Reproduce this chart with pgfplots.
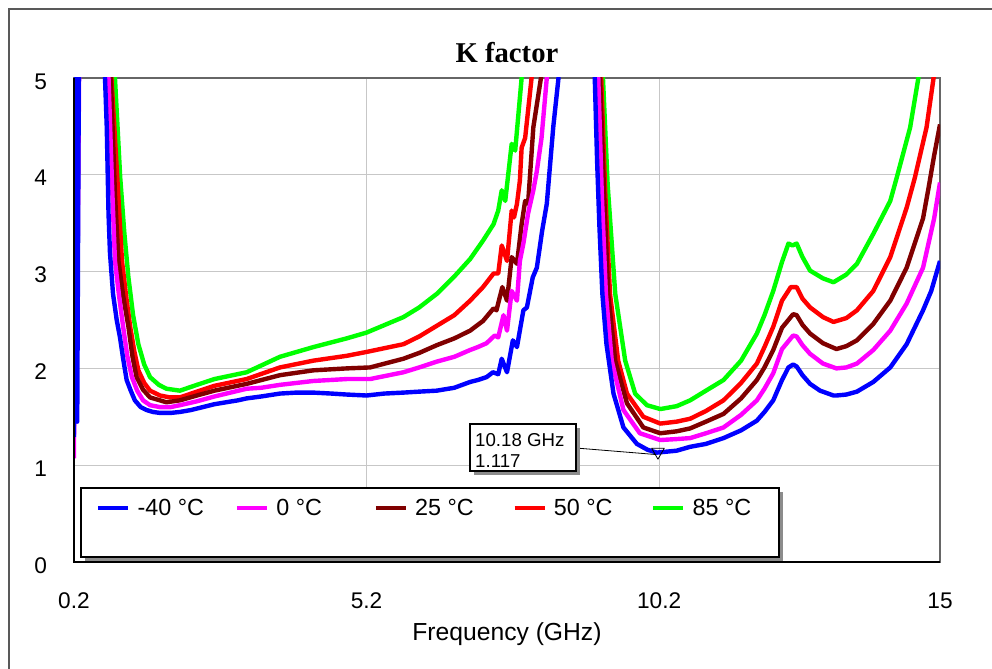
\documentclass[border=0pt]{standalone}
\usepackage{fontspec}
\setmainfont{Liberation Sans}
\newfontfamily\titlefont{Liberation Serif}
\usepackage{pgfplots}
\pgfplotsset{compat=1.18}

\pgfplotstableread{
f v
0.2 1.29
0.225 5.5
0.255 1.45
0.29 6
0.5 8
0.70 6
0.73 5.0
0.76 4.49
0.79 3.6
0.815 3.19
0.867 2.77
0.93 2.5
0.986 2.32
1.04 2.1
1.10 1.88
1.17 1.77
1.24 1.67
1.34 1.60
1.44 1.57
1.55 1.55
1.67 1.54
1.85 1.54
2.01 1.55
2.2 1.57
2.4 1.60
2.6 1.63
2.8 1.65
3.0 1.67
3.15 1.69
3.4 1.71
3.72 1.74
4.0 1.75
4.29 1.75
4.6 1.74
4.86 1.73
5.2 1.72
5.5 1.74
5.83 1.75
6.1 1.76
6.4 1.77
6.7 1.80
6.97 1.86
7.1 1.88
7.25 1.91
7.36 1.96
7.45 1.94
7.51 2.10
7.56 2.02
7.6 1.96
7.7 2.29
7.77 2.22
7.88 2.60
7.94 2.63
8.04 2.94
8.11 3.04
8.20 3.42
8.28 3.70
8.39 4.49
8.48 5.0
8.55 6
9.0 7
9.10 5.0
9.14 4.14
9.18 3.46
9.23 2.77
9.30 2.25
9.42 1.74
9.59 1.39
9.82 1.22
10.0 1.16
10.16 1.13
10.5 1.15
10.73 1.19
11.0 1.22
11.30 1.28
11.6 1.36
11.87 1.46
12.0 1.55
12.15 1.67
12.3 1.88
12.41 2.01
12.49 2.04
12.55 2.02
12.65 1.93
12.78 1.84
12.95 1.77
13.18 1.72
13.23 1.72
13.4 1.73
13.58 1.76
13.86 1.86
14.15 2.01
14.43 2.25
14.71 2.60
14.85 2.80
15.0 3.11
}\tblue

\pgfplotstableread{
f v
0.2 1.07
0.215 5.5
0.26 3.0
0.30 6
0.5 8
0.77 6
0.79 5.0
0.85 3.9
0.90 3.11
0.97 2.75
1.04 2.43
1.11 2.13
1.19 1.91
1.28 1.77
1.38 1.67
1.5 1.62
1.67 1.60
1.85 1.60
2.01 1.62
2.3 1.66
2.6 1.71
3.15 1.79
3.4 1.80
3.72 1.83
4.29 1.87
4.86 1.89
5.26 1.89
5.83 1.96
6.1 2.01
6.4 2.07
6.7 2.12
6.97 2.19
7.1 2.22
7.25 2.26
7.39 2.34
7.45 2.32
7.54 2.55
7.6 2.39
7.68 2.80
7.77 2.70
7.82 3.11
7.88 3.29
7.96 3.60
8.05 3.84
8.11 4.04
8.19 4.38
8.28 5.0
8.35 6
9.0 7
9.16 5.0
9.22 3.8
9.29 2.77
9.39 2.08
9.59 1.57
9.87 1.33
10.22 1.26
10.5 1.27
10.73 1.28
11.0 1.33
11.30 1.39
11.6 1.52
11.87 1.67
12.0 1.79
12.15 1.95
12.3 2.20
12.49 2.34
12.55 2.33
12.65 2.24
12.78 2.15
13.0 2.05
13.23 2.00
13.4 2.01
13.58 2.05
13.86 2.19
14.15 2.39
14.43 2.67
14.71 3.04
14.9 3.55
15.0 3.92
}\tmag

\pgfplotstableread{
f v
0.2 1.40
0.225 6
0.5 8
0.8 6
0.83 5.0
0.90 3.8
0.96 3.11
1.04 2.75
1.13 2.43
1.2 2.12
1.27 1.91
1.38 1.78
1.5 1.70
1.78 1.65
2.01 1.67
2.3 1.72
2.6 1.77
3.15 1.84
3.72 1.93
4.29 1.98
4.86 2.00
5.26 2.01
5.83 2.10
6.1 2.16
6.4 2.24
6.7 2.31
6.97 2.39
7.19 2.49
7.37 2.62
7.42 2.60
7.52 2.84
7.6 2.70
7.68 3.15
7.77 3.08
7.85 3.49
7.91 3.73
7.96 3.70
8.05 4.49
8.18 5.0
8.25 6
9.0 7
9.19 5.0
9.26 3.8
9.33 2.77
9.45 2.08
9.65 1.64
9.93 1.39
10.22 1.33
10.5 1.35
10.73 1.38
11.0 1.45
11.30 1.53
11.6 1.69
11.87 1.88
12.0 2.01
12.15 2.19
12.3 2.42
12.49 2.56
12.55 2.55
12.65 2.45
12.78 2.36
13.0 2.26
13.23 2.20
13.4 2.23
13.58 2.29
13.86 2.46
14.15 2.70
14.43 3.04
14.71 3.55
14.8 3.85
14.9 4.20
15.0 4.52
}\tdred

\pgfplotstableread{
f v
0.2 1.45
0.225 6
0.5 8
0.82 6
0.84 5.0
0.94 3.97
1.02 3.11
1.09 2.75
1.16 2.43
1.23 2.18
1.30 1.98
1.4 1.85
1.5 1.77
1.67 1.72
1.84 1.70
2.01 1.70
2.3 1.76
2.6 1.82
3.15 1.89
3.72 2.01
4.29 2.08
4.86 2.13
5.2 2.17
5.83 2.25
6.1 2.33
6.4 2.44
6.7 2.55
6.97 2.70
7.19 2.84
7.37 2.98
7.45 2.98
7.51 3.27
7.6 3.11
7.68 3.63
7.72 3.56
7.77 3.70
7.82 3.94
7.85 4.28
7.91 4.38
8.02 5.0
8.1 6
9.0 7
9.21 5.0
9.28 3.8
9.36 2.77
9.50 2.08
9.65 1.74
9.93 1.50
10.22 1.43
10.5 1.45
10.73 1.48
11.0 1.56
11.30 1.67
11.6 1.85
11.87 2.05
12.0 2.22
12.15 2.43
12.3 2.70
12.45 2.84
12.55 2.84
12.65 2.72
12.78 2.63
13.0 2.53
13.18 2.48
13.4 2.52
13.58 2.60
13.86 2.80
14.15 3.15
14.43 3.66
14.57 3.97
14.77 4.49
14.89 5.0
15.0 5.4
}\tred

\pgfplotstableread{
f v
0.2 1.50
0.225 6
0.5 8
0.88 6
0.90 5.0
0.99 3.97
1.06 3.4
1.13 2.94
1.21 2.55
1.30 2.25
1.4 2.04
1.5 1.91
1.65 1.83
1.78 1.79
2.01 1.77
2.3 1.83
2.6 1.89
3.15 1.96
3.4 2.03
3.72 2.12
4.29 2.22
4.86 2.31
5.2 2.37
5.83 2.53
6.1 2.63
6.4 2.77
6.7 2.95
6.97 3.13
7.19 3.32
7.37 3.49
7.45 3.63
7.51 3.84
7.57 3.73
7.68 4.32
7.74 4.25
7.85 5.0
7.95 6
9.0 7
9.24 5.0
9.32 3.9
9.45 2.77
9.62 2.08
9.79 1.74
9.99 1.62
10.22 1.58
10.5 1.61
10.73 1.67
11.0 1.77
11.30 1.88
11.6 2.08
11.87 2.36
12.0 2.55
12.15 2.80
12.3 3.10
12.41 3.29
12.48 3.27
12.55 3.29
12.65 3.15
12.78 3.01
13.0 2.93
13.18 2.89
13.4 2.97
13.58 3.08
13.86 3.39
14.15 3.73
14.26 3.97
14.49 4.49
14.63 5.0
14.75 5.4
}\tgreen

\definecolor{cblue}{RGB}{0,0,255}
\definecolor{cmag}{RGB}{255,0,255}
\definecolor{cdred}{RGB}{128,0,0}
\definecolor{cred}{RGB}{255,0,0}
\definecolor{cgreen}{RGB}{0,255,0}

\begin{document}
\begin{tikzpicture}
\draw[black!65, line width=1pt] (6.75pt,-10pt) -- (6.75pt,494.25pt) -- (760pt,494.25pt);
\begin{axis}[
  at={(55.5pt,79.5pt)}, anchor=south west,
  scale only axis, width=649.5pt, height=363pt,
  xmin=0.2, xmax=15, ymin=0, ymax=5,
  clip mode=individual,
  axis line style={black!60, line width=1.1pt},
  grid=major, major grid style={black!22, line width=0.8pt},
  major tick length=0pt,
  xtick={0.2,5.2,10.2,15}, xticklabels={0.2,5.2,10.2,15},
  ytick={0,1,2,3,4,5}, yticklabels={0,1,2,3,4,5},
  /pgf/number format/assume math mode=true,
  ticklabel style={font=\fontsize{17}{20}\selectfont},
  xticklabel style={inner sep=0pt, anchor=north, yshift=-23pt},
  yticklabel style={inner sep=0pt, anchor=east, xshift=-20pt, yshift=-2.5pt},
  xlabel={Frequency (GHz)},
  xlabel style={at={(axis description cs:0.5,-0.1488)}, anchor=center, font=\fontsize{18.5}{22}\selectfont},
  title={K factor},
  title style={at={(axis description cs:0.5,1.037)}, anchor=center, font=\titlefont\bfseries\fontsize{21.5}{25}\selectfont},
  legend columns=5,
  reverse legend,
  legend cell align=left,
  legend style={at={(axis description cs:0.0254,0.1116)}, anchor=west, draw=none, fill=none, inner sep=0pt,
    font=\fontsize{17.5}{21}\selectfont, nodes={inner sep=0pt},
    /tikz/every odd column/.append style={column sep=5.25pt}},
  legend image code/.code={\draw[#1] (0pt,0pt) -- (22.5pt,0pt);},
  every axis plot/.append style={line width=3.3pt, line join=round},
]
\draw[draw=none, fill=black!45] (axis description cs:0.0127,0.0021) rectangle (axis description cs:0.8187,0.1446);
\draw[black, line width=1pt, fill=white] (axis description cs:0.00808,0.01033) rectangle (axis description cs:0.8141,0.1529);

\addplot[cgreen] table[x=f,y=v] {\tgreen};
\addplot[cred] table[x=f,y=v] {\tred};
\addplot[cdred] table[x=f,y=v] {\tdred};
\addplot[cmag] table[x=f,y=v] {\tmag};
\addplot[cblue] table[x=f,y=v] {\tblue};
\legend{\makebox[73pt][l]{85 °C},\makebox[73pt][l]{50 °C},\makebox[73pt][l]{25 °C},\makebox[73pt][l]{0 °C},\makebox[73pt][l]{-40 °C}}

\draw[black, line width=0.8pt] (axis description cs:0,1) -- (axis description cs:0,0) -- (axis description cs:1,0);

% annotation
\draw[black, line width=0.6pt] (axis description cs:0.5797,0.2355) -- (axis cs:10.15,1.11);
\addplot[forget plot, only marks, mark=triangle, mark size=5.5pt, mark options={rotate=180, black, fill=white, line width=0.6pt, yshift=-1.5pt}] coordinates {(10.18,1.117)};
\draw[draw=none, fill=black!45] (axis description cs:0.4619,0.1798) rectangle (axis description cs:0.5843,0.2769);
\draw[black, line width=0.8pt, fill=white] (axis description cs:0.4573,0.1880) rectangle (axis description cs:0.5797,0.2851);
\node[anchor=north west, align=left, inner sep=0pt, font=\fontsize{14}{15.75}\selectfont] at (axis description cs:0.4630,0.2665) {10.18 GHz\\1.117};
\end{axis}
\pgfresetboundingbox
\path[use as bounding box] (0,0) rectangle (744pt,501pt);
\end{tikzpicture}
\end{document}
